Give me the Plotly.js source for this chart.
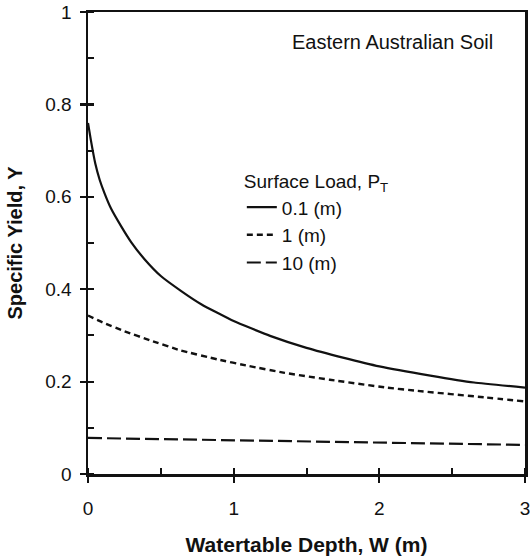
<!DOCTYPE html>
<html>
<head>
<meta charset="utf-8">
<script src="https://cdn.plot.ly/plotly-3.0.1.min.js"></script>
<style>html,body{margin:0;padding:0;background:#fff;overflow:hidden;}#chart{width:540px;height:556px;}</style>
</head>
<body>
<div id="chart"></div>
<script>
// Surface load 0.1 m
const w01 = [0, 0.02, 0.05, 0.08, 0.113, 0.159, 0.228, 0.296, 0.388, 0.502, 0.64, 0.78, 1.0, 1.25, 1.5, 1.75, 2.0, 2.35, 2.65, 3.0];
const y01 = [0.76, 0.722, 0.672, 0.637, 0.608, 0.574, 0.536, 0.502, 0.465, 0.428, 0.396, 0.367, 0.331, 0.299, 0.273, 0.252, 0.233, 0.213, 0.198, 0.187];
// Surface load 1 m
const w1 = [0, 0.1, 0.25, 0.43, 0.63, 0.89, 1.1, 1.35, 1.66, 2.05, 2.26, 2.72, 3.0];
const y1 = [0.343, 0.328, 0.309, 0.289, 0.268, 0.248, 0.234, 0.219, 0.204, 0.187, 0.180, 0.166, 0.157];
// Surface load 10 m
const w10 = [0, 1, 2, 3];
const y10 = [0.078, 0.073, 0.068, 0.063];

const seriesNames = ['0.1 (m)', '1 (m)', '10 (m)'];
const xTicks = [0, 1, 2, 3];
const yTicks = [0, 0.2, 0.4, 0.6, 0.8, 1];
const yTickText = ['0', '0.2', '0.4', '0.6', '0.8', '1'];

const FONT = 'Arial, "Liberation Sans", Helvetica, sans-serif';

const traces = [
  {x: w01, y: y01, name: seriesNames[0], mode: 'lines', line: {color: '#111', width: 2.2, shape: 'spline', smoothing: 0.4}},
  {x: w1, y: y1, name: seriesNames[1], mode: 'lines', line: {color: '#111', width: 2.4, dash: '6px,4px', shape: 'spline', smoothing: 0.4}},
  {x: w10, y: y10, name: seriesNames[2], mode: 'lines', line: {color: '#111', width: 2.2, dash: '14px,5px'}},
  {x: [0, 3], y: [0, 0], xaxis: 'x2', yaxis: 'y2', mode: 'lines', line: {width: 0}, showlegend: false, hoverinfo: 'skip'}
];

const axBase = {
  showgrid: false, zeroline: false, showline: true, mirror: true,
  linecolor: '#111', linewidth: 2.5, tickcolor: '#111', tickwidth: 2.2
};

const layout = {
  width: 540, height: 556,
  margin: {l: 88, r: 15, t: 12, b: 82},
  paper_bgcolor: '#fff', plot_bgcolor: '#fff',
  font: {family: FONT, size: 19, color: '#111'},
  showlegend: true,
  legend: {
    x: 0.352, y: 0.672, xanchor: 'left', yanchor: 'top',
    bgcolor: 'rgba(0,0,0,0)', borderwidth: 0,
    font: {family: FONT, size: 19, color: '#111'},
    title: {text: 'Surface Load, P<sub>T</sub>', font: {family: FONT, size: 19, color: '#111'}},
    itemwidth: 30, tracegroupgap: 0
  },
  xaxis: Object.assign({}, axBase, {
    range: [0, 3], tickvals: xTicks, ticktext: xTicks.map(String),
    ticks: 'outside', ticklen: 6, ticklabelstandoff: 10, ticklabeloverflow: 'allow', automargin: false,
    minor: {dtick: 0.5, ticks: 'inside', ticklen: 6, tickcolor: '#111', tickwidth: 2},
    tickfont: {family: FONT, size: 19, color: '#111'},
    title: {text: '<b>Watertable Depth, W (m)</b>', font: {family: FONT, size: 21, color: '#111'}, standoff: 22}
  }),
  yaxis: Object.assign({}, axBase, {
    range: [0, 1], tickvals: yTicks, ticktext: yTickText,
    ticks: 'outside', ticklen: 6, ticklabelstandoff: 4, automargin: false,
    minor: {dtick: 0.1, ticks: 'inside', ticklen: 6, tickcolor: '#111', tickwidth: 2},
    tickfont: {family: FONT, size: 19, color: '#111'},
    title: {text: '<b>Specific Yield, Y</b>', font: {family: FONT, size: 20, color: '#111'}, standoff: 18}
  }),
  xaxis2: {overlaying: 'x', range: [0, 3], tickvals: xTicks, ticks: 'inside', ticklen: 6, tickwidth: 2.2, tickcolor: '#111', showticklabels: false, showgrid: false, zeroline: false, showline: false},
  yaxis2: {overlaying: 'y', range: [0, 1], tickvals: yTicks, ticks: 'inside', ticklen: 6, tickwidth: 2.2, tickcolor: '#111', showticklabels: false, showgrid: false, zeroline: false, showline: false},
  annotations: [
    {xref: 'paper', yref: 'paper', x: 0.697, y: 0.934, xanchor: 'center', yanchor: 'middle',
     text: 'Eastern Australian Soil', showarrow: false, font: {family: FONT, size: 20, color: '#111'}}
  ]
};

Plotly.newPlot('chart', traces, layout, {displayModeBar: false, staticPlot: true});
</script>
</body>
</html>
